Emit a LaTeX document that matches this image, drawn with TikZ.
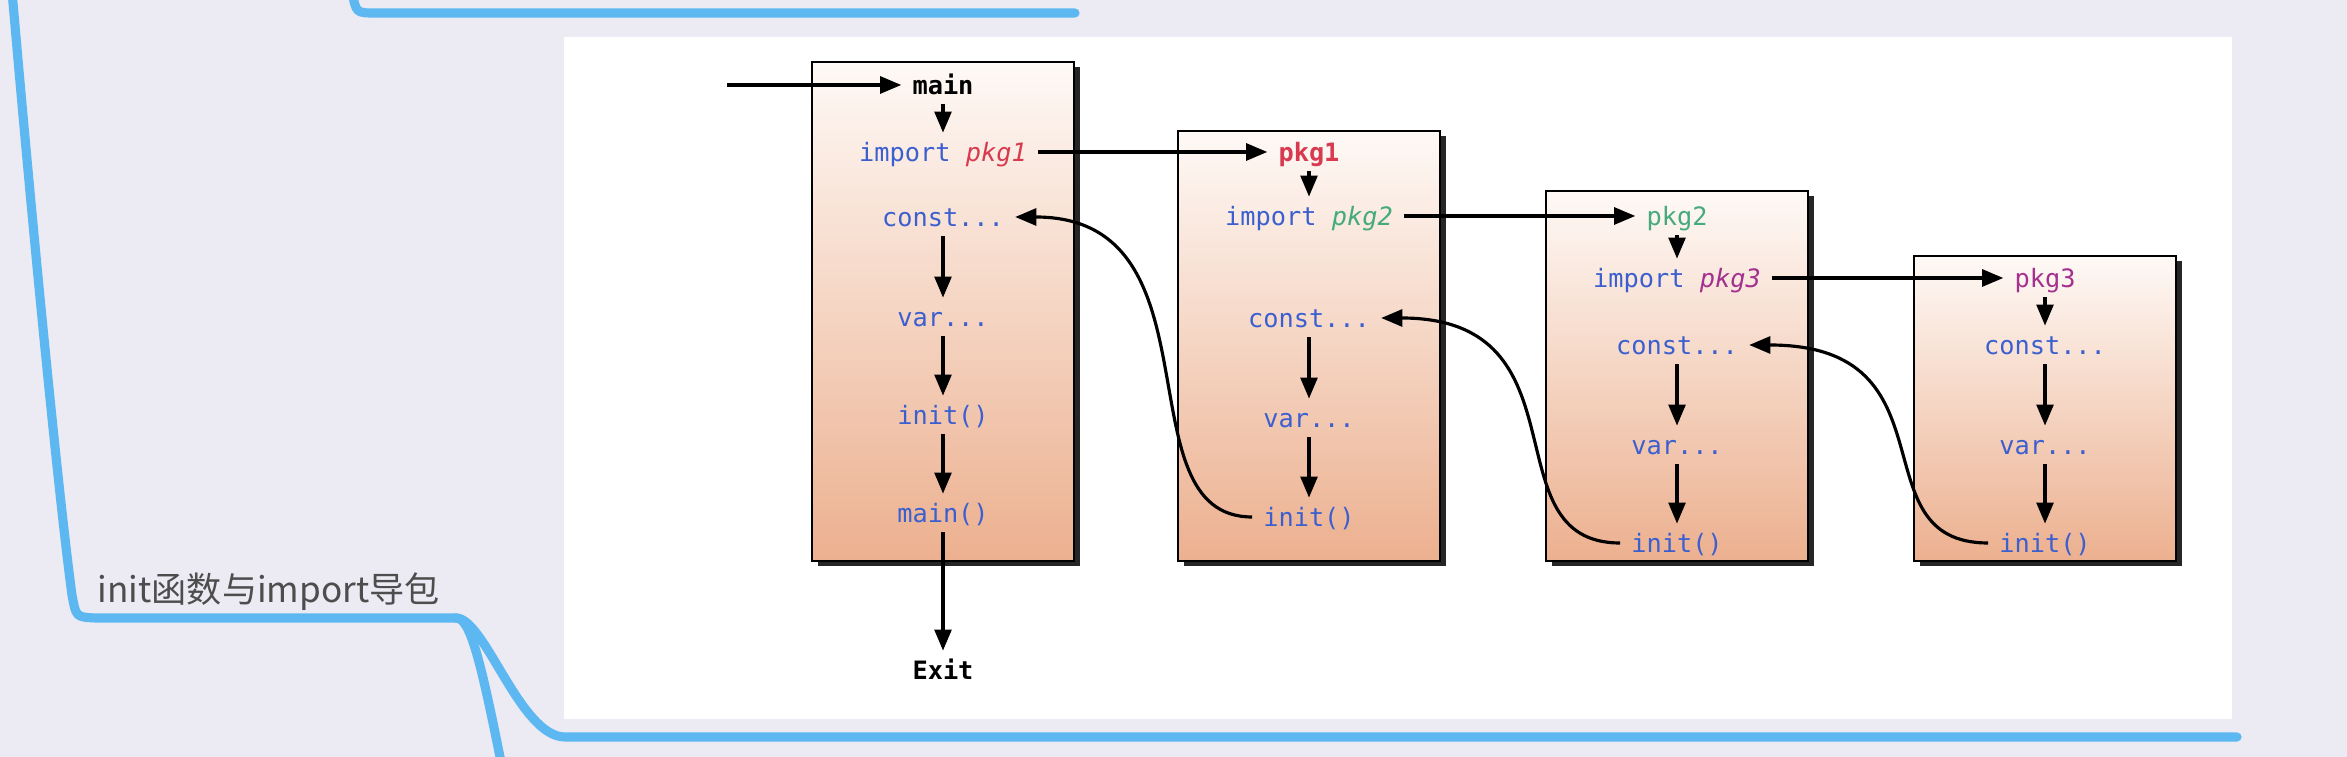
\documentclass[tikz,border=0pt]{standalone}
\usepackage{fontspec}
\setmonofont{DejaVu Sans Mono}
\newfontfamily\cjk{Noto Sans CJK SC}
\usepackage{xcolor}
\definecolor{mmbg}{HTML}{ECEAF3}
\definecolor{mmline}{HTML}{5DB8F2}
\definecolor{mmtext}{HTML}{4D4D4D}
\definecolor{gokw}{HTML}{3C5FCF}
\definecolor{gopkga}{HTML}{D83A50}
\definecolor{gopkgb}{HTML}{45AA7C}
\definecolor{gopkgc}{HTML}{A4308F}
\definecolor{boxtop}{HTML}{FEF9F6}
\definecolor{boxbot}{HTML}{ECB08F}
\usetikzlibrary{arrows.meta,shadows}
\tikzset{
  pkgbox/.style    ={rectangle, draw=black, line width=0.6pt, top color=boxtop,
                     bottom color=boxbot, minimum width=2.62cm, inner sep=0pt,
                     drop shadow={shadow xshift=0.55mm, shadow yshift=-0.55mm,
                                  fill=black!85, opacity=1}},
  gocode/.style    ={font=\ttfamily\fontsize{7.2}{8}\selectfont, text=gokw,
                     inner xsep=3pt, inner ysep=1pt, text height=1.6ex, text depth=0.4ex},
  gohead/.style    ={gocode, font=\ttfamily\bfseries\fontsize{7.2}{8}\selectfont},
  flowarrow/.style ={-{Triangle[length=6pt,width=4.8pt]}, line width=0.9pt},
  initback/.style  ={flowarrow, line width=0.9pt},
  mmedge/.style    ={draw=mmline, line width=2.6pt, line cap=round},
  topiclbl/.style  ={font=\cjk\fontsize{10}{12}\selectfont, text=mmtext, inner sep=0pt},
}

\begin{document}
\begin{tikzpicture}
  \useasboundingbox (0,0) rectangle (23.47,7.57);
  \fill[mmbg] (0,0) rectangle (23.47,7.57);
  % mind map branches
  \draw[mmedge] (3.52,7.66) .. controls (3.56,7.44) .. (3.75,7.44) -- (10.75,7.44);
  \coordinate (fork) at (4.56,1.39);
  \draw[mmedge] (0.12,7.66) .. controls (0.35,5.0) and (0.6,2.5) .. (0.72,1.62)
    .. controls (0.76,1.40) .. (0.95,1.39) -- (fork);
  \draw[mmedge] (fork) .. controls (4.70,1.39) and (4.80,1.0) .. (5.02,-0.1);
  \draw[mmedge] (fork) .. controls (4.85,1.39) and (5.20,0.20) .. (5.65,0.20) -- (22.37,0.20);
  \node[topiclbl, anchor=base west] (topic) at (0.97,1.54) {init函数与import导包};
  % picture panel
  \fill[white] (5.64,0.38) rectangle (22.32,7.20);
  \foreach \n/\x/\h in {1/9.43/4.99, 2/13.09/4.30, 3/16.77/3.70, 4/20.45/3.05}
    \node[pkgbox, minimum height=\h cm, anchor=south] (box\n) at (\x,1.95) {};
  % main package
  \node[gohead, text=black] (main) at (9.43,6.72) {main};
  \node[gocode] (imp1) at (9.43,6.05) {import \textcolor{gopkga}{\itshape pkg1}};
  \node[gocode] (const1) at (9.43,5.40) {const...};
  \node[gocode] (var1) at (9.43,4.40) {var...};
  \node[gocode] (init1) at (9.43,3.42) {init()};
  \node[gocode] (mainfn) at (9.43,2.44) {main()};
  \node[gohead, text=black] (exit) at (9.43,0.87) {Exit};
  \coordinate (entry) at (7.27,6.72);
  % pkg1
  \node[gohead, text=gopkga] (pkg1) at (13.09,6.05) {pkg1};
  \node[gocode] (imp2) at (13.09,5.41) {import \textcolor{gopkgb}{\itshape pkg2}};
  \node[gocode] (const2) at (13.09,4.39) {const...};
  \node[gocode] (var2) at (13.09,3.39) {var...};
  \node[gocode] (init2) at (13.09,2.40) {init()};
  % pkg2
  \node[gocode, text=gopkgb] (pkg2) at (16.77,5.41) {pkg2};
  \node[gocode] (imp3) at (16.77,4.79) {import \textcolor{gopkgc}{\itshape pkg3}};
  \node[gocode] (const3) at (16.77,4.12) {const...};
  \node[gocode] (var3) at (16.77,3.12) {var...};
  \node[gocode] (init3) at (16.77,2.14) {init()};
  % pkg3
  \node[gocode, text=gopkgc] (pkg3) at (20.45,4.79) {pkg3};
  \node[gocode] (const4) at (20.45,4.12) {const...};
  \node[gocode] (var4) at (20.45,3.12) {var...};
  \node[gocode] (init4) at (20.45,2.14) {init()};
  % flow inside the boxes
  \draw[flowarrow] (entry) -- (main);
  \foreach \a/\b in {main/imp1, const1/var1, var1/init1, init1/mainfn, mainfn/exit,
                     pkg1/imp2, const2/var2, var2/init2,
                     pkg2/imp3, const3/var3, var3/init3,
                     pkg3/const4, const4/var4, var4/init4}
    \draw[flowarrow] (\a) -- (\b);
  % imports
  \foreach \a/\b in {imp1/pkg1, imp2/pkg2, imp3/pkg3}
    \draw[flowarrow] (\a.east) -- (\b.west);
  % back after init()
  \foreach \a/\b in {init2/const1, init3/const2, init4/const3}
    \draw[initback] (\a.west) .. controls +(-1.33,0) and +(2.1,0) .. (\b.east);
\end{tikzpicture}
\end{document}
